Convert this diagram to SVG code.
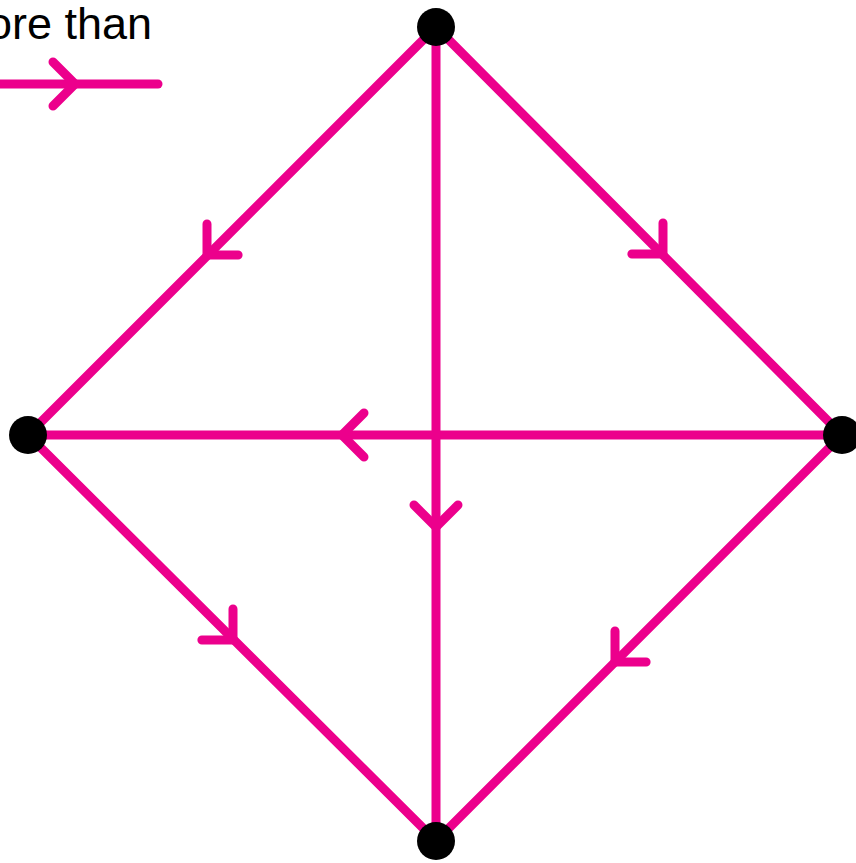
<svg xmlns="http://www.w3.org/2000/svg" xmlns:xlink="http://www.w3.org/1999/xlink" width="856" height="863" viewBox="0 0 856 863">
<style>
.e{stroke:#EC008C;stroke-width:9;fill:none;stroke-linecap:round;stroke-linejoin:round}
.n{fill:#000}
.t{font-family:"Liberation Sans",Arial,sans-serif;font-size:45px;fill:#000}
</style>
<defs>
<path id="chev" d="M-22,-22 L0,0 L-22,22" class="e"/>
</defs>
<rect width="856" height="863" fill="#fff"/>
<g id="legend">
<text class="t" x="-13" y="39">ore than</text>
<line class="e" x1="-10" y1="84" x2="158" y2="84"/>
<use xlink:href="#chev" transform="translate(75,84)"/>
</g>
<g id="connectors">
<line class="e" x1="436" y1="27" x2="28" y2="435"/>
<line class="e" x1="436" y1="27" x2="842" y2="435"/>
<line class="e" x1="436" y1="27" x2="436" y2="841"/>
<line class="e" x1="842" y1="435" x2="28" y2="435"/>
<line class="e" x1="28" y1="435" x2="436" y2="841"/>
<line class="e" x1="842" y1="435" x2="436" y2="841"/>
<use xlink:href="#chev" transform="translate(207,255) rotate(135)"/>
<use xlink:href="#chev" transform="translate(663,254) rotate(45)"/>
<use xlink:href="#chev" transform="translate(342,435) rotate(180)"/>
<use xlink:href="#chev" transform="translate(436,527) rotate(90)"/>
<use xlink:href="#chev" transform="translate(233,640) rotate(45)"/>
<use xlink:href="#chev" transform="translate(615,662) rotate(135)"/>
</g>
<g id="node-top"><circle class="n" cx="436" cy="27" r="19"/></g>
<g id="node-left"><circle class="n" cx="28" cy="435" r="19"/></g>
<g id="node-right"><circle class="n" cx="842" cy="435" r="19"/></g>
<g id="node-bottom"><circle class="n" cx="436" cy="841" r="19"/></g>
</svg>
